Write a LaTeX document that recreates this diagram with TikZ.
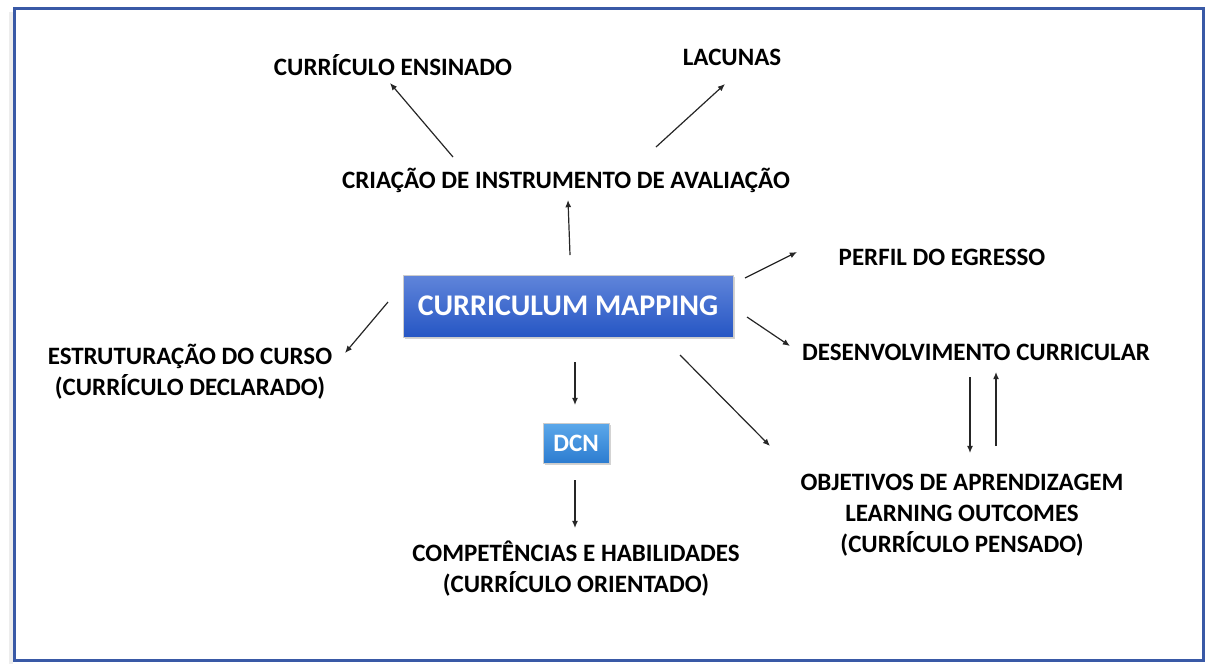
\documentclass[tikz,border=0pt]{standalone}
\usepackage{fontspec}
\setmainfont{Carlito}
\usetikzlibrary{arrows.meta,calc,shadows}
\definecolor{framecol}{RGB}{57,89,166}
\definecolor{maptop}{RGB}{96,133,218}
\definecolor{mapbot}{RGB}{38,86,196}
\definecolor{dcntop}{RGB}{92,168,234}
\definecolor{dcnbot}{RGB}{44,124,208}
\begin{document}
\begin{tikzpicture}[x=0.5pt,y=-0.5pt,
	every node/.style={font=\fontsize{12.5}{15.5}\selectfont\bfseries,align=center,inner sep=0},
	bluebox/.style={draw=black!20,line width=.3pt,text=white,
		drop shadow={shadow xshift=.8pt,shadow yshift=-1.2pt,opacity=.35}},
	arr/.style={-{Latex[length=3.6pt,width=3pt]},line width=.6pt,black!85}]
\useasboundingbox (0,0) rectangle (1210,666);
\fill[black!7] (9,12) rectangle (13,664);
\draw[framecol,line width=1.5pt] (14.5,8.5) rectangle (1203.5,660.5);

\node[anchor=base] (ensinado) at (393,75) {CURRÍCULO ENSINADO};
\node[anchor=base] (lacunas) at (732,65) {LACUNAS};
\node[anchor=base] (criacao) at (566,188) {CRIAÇÃO DE INSTRUMENTO DE AVALIAÇÃO};
\node[bluebox,top color=maptop,bottom color=mapbot,minimum width=165pt,minimum height=31pt,
	font=\fontsize{15}{18}\selectfont\bfseries] (mapping) at (568,306) {CURRICULUM MAPPING};
\node[anchor=base] (perfil) at (942,265) {PERFIL DO EGRESSO};
\node (estrut) at (190,372) {ESTRUTURAÇÃO DO CURSO\\(CURRÍCULO DECLARADO)};
\node[anchor=base] (desenv) at (976,360) {DESENVOLVIMENTO CURRICULAR};
\node[bluebox,top color=dcntop,bottom color=dcnbot,minimum width=33pt,minimum height=20pt] (dcn) at (576,443) {DCN};
\node (objetivos) at (962,515) {OBJETIVOS DE APRENDIZAGEM\\LEARNING OUTCOMES\\(CURRÍCULO PENSADO)};
\node (compet) at (576,569) {COMPETÊNCIAS E HABILIDADES\\(CURRÍCULO ORIENTADO)};

\draw[arr] ($(criacao.base)+(-113,-31)$) -- ($(ensinado.base)+(-3,8)$);
\draw[arr] ($(criacao.base)+(90,-41)$) -- ($(lacunas.base)+(-7,19)$);
\draw[arr] ($(mapping)+(2,-51)$) -- ($(criacao.base)+(2,12)$);
\draw[arr] ($(mapping)+(177,-28)$) -- ($(perfil.base)+(-145,-13)$);
\draw[arr] ($(mapping)+(179,11)$) -- ($(desenv.base)+(-186,-14)$);
\draw[arr] ($(mapping)+(-180,-4)$) -- ($(estrut)+(155,-19)$);
\draw[arr] ($(mapping)+(7,56)$) -- ($(dcn)+(-1,-38)$);
\draw[arr] ($(dcn)+(-1,37)$) -- ($(compet)+(-1,-41)$);
\draw[arr] ($(mapping)+(112,49)$) -- ($(objetivos)+(-192,-69)$);
\draw[arr] ($(desenv.base)+(-6,17)$) -- ($(objetivos)+(8,-62)$);
\draw[arr] ($(objetivos)+(34,-69)$) -- ($(desenv.base)+(20,12)$);
\end{tikzpicture}
\end{document}
